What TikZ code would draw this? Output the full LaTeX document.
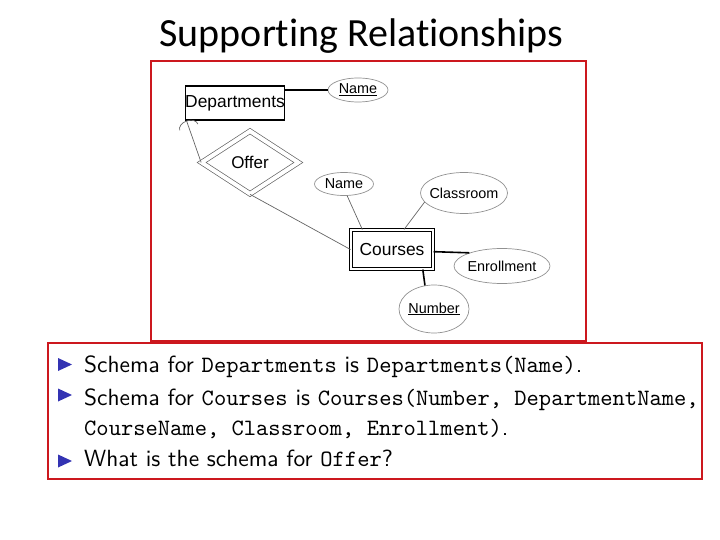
\documentclass[tikz,border=0pt]{standalone}
\usepackage{fontspec}
\setsansfont{lmsans10-regular.otf}
\setmonofont{lmmono10-regular.otf}
\newfontfamily\titlefont[Ligatures=NoCommon]{Carlito}
\newfontfamily\erfont{Liberation Sans}
\usetikzlibrary{arrows.meta,shapes.geometric}
\definecolor{framered}{RGB}{204,24,30}
\definecolor{bulletblue}{RGB}{51,51,179}
\definecolor{erline}{RGB}{100,100,100}
\definecolor{attrline}{RGB}{145,145,145}
\tikzset{
  entity/.style={
    draw=black,
    line width=1.3pt,
    inner sep=0pt,
    minimum width=98pt,
    minimum height=34pt,
    font=\erfont\fontsize{17.4}{20}\selectfont
  },
  weakentity/.style={
    draw=black,
    double,
    line width=1.2pt,
    double distance=1.8pt,
    inner sep=0pt,
    minimum width=81.8pt,
    minimum height=38.8pt,
    font=\erfont\fontsize{17.4}{20}\selectfont
  },
  relation/.style={
    diamond,
    draw=erline,
    double,
    line width=0.7pt,
    double distance=4pt,
    inner sep=0pt,
    minimum width=97pt,
    minimum height=63pt,
    font=\erfont\fontsize{17}{19}\selectfont
  },
  attr/.style={
    ellipse,
    draw=attrline,
    line width=0.7pt,
    inner xsep=-8pt,
    inner ysep=0pt,
    font=\erfont\fontsize{14.4}{16}\selectfont
  },
  line/.style={draw=erline, line width=0.7pt},
  keyline/.style={draw=black, line width=1.6pt},
  frame/.style={draw=framered, line width=2.6pt},
  bullettext/.style={anchor=base west, inner sep=0pt, font=\sffamily\fontsize{23.4}{28}\selectfont},
  bullet/.style={fill=bulletblue}
}
\begin{document}
\begin{tikzpicture}[x=1pt, y=-1pt]
\useasboundingbox (0,0) rectangle (720,540);
% title
\node[anchor=base, inner sep=0pt, font=\titlefont\fontsize{40}{44}\selectfont] (title) at (361.5,47) {Supporting Relationships};

% frames
\draw[frame] (151,61) rectangle (586,341);
\draw[frame, line width=2pt] (48,343) rectangle (702,479);

% ER diagram
\node[entity] (dept) at (235,103) {Departments};
\node[attr, minimum width=60pt, minimum height=24pt] (deptname) at (358,90) {\underline{Name}};
\node[relation] (offer) at (250,162.5) {Offer};
\node[weakentity] (courses) at (392,249.5) {Courses};
\node[attr, minimum width=59pt, minimum height=23pt] (coursename) at (344,184) {Name};
\node[attr, minimum width=87pt, minimum height=41pt] (classroom) at (464,193) {Classroom};
\node[attr, minimum width=96pt, minimum height=35pt] (enroll) at (502,266) {Enrollment};
\node[attr, minimum width=70pt, minimum height=48pt] (number) at (434,309) {\underline{Number}};

\draw[keyline] (dept.east |- deptname.west) -- (deptname.west);
\draw[line, -{Arc Barb[width=20pt, length=7pt]}] (offer.west) -- (dept.200);
\draw[line] (offer.south) -- (courses.west);
\draw[line] (coursename.285) -- (courses.146);
\draw[line] (classroom.193) -- (courses.59);
\draw[keyline] (courses.-3) -- (enroll.158);
\draw[keyline] (courses.-33) -- (number.111);

% bullet list
\foreach \y in {364.5,395,461}
  \fill[bullet] (58,\y-6.5) -- (72,\y) -- (58,\y+6.5) -- cycle;
\node[bullettext] (schemadept) at (84,372) {Schema for \texttt{Departments} is \texttt{Departments(Name)}.};
\node[bullettext] (schemacourse) at (84,405) {Schema for \texttt{Courses} is \texttt{Courses(Number, DepartmentName,}};
\node[bullettext] (schemacourse2) at (84,435) {\texttt{CourseName, Classroom, Enrollment)}.};
\node[bullettext] (question) at (84,466) {What is the schema for \texttt{Offer}?};
\end{tikzpicture}
\end{document}
